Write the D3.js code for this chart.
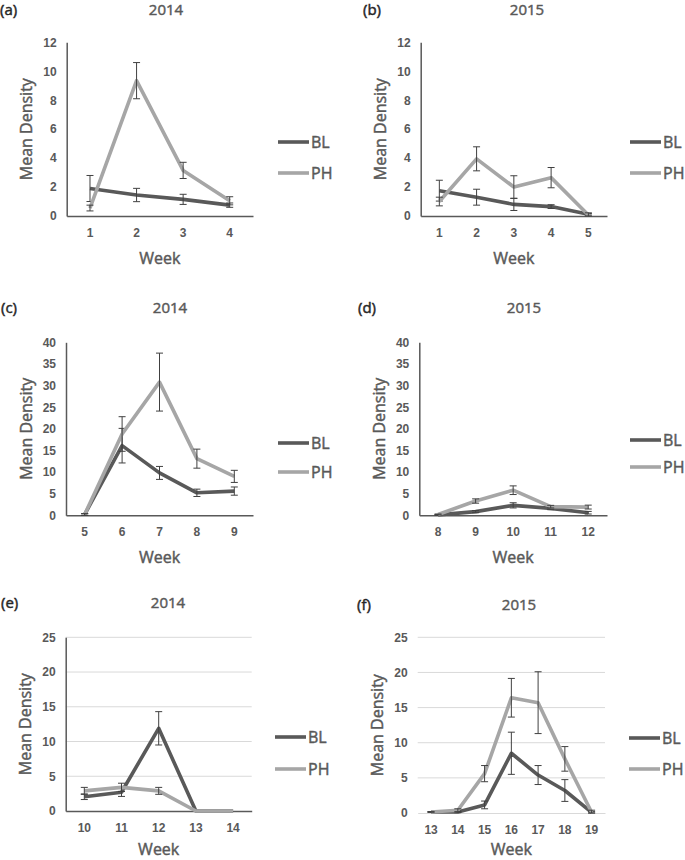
<!DOCTYPE html>
<html>
<head>
<meta charset="utf-8">
<script src="https://cdn.jsdelivr.net/npm/d3@7"></script>
<style>
  body { margin: 0; background: #fff; }
  svg { display: block; font-family: 'Open Sans', 'Liberation Sans', sans-serif; }
  .tick text { fill: #595959; font-size: 12px; font-weight: bold; }
  .heavy { stroke-width: 0.45px; paint-order: stroke; }
</style>
</head>
<body>
<div id="chart"></div>
<script>
// panel (a) 2014
const weeksA = [1, 2, 3, 4];
const blA = [1.9, 1.45, 1.15, 0.75];
const blErrA = [0.9, 0.46, 0.35, 0.15];
const phA = [0.55, 9.35, 3.15, 1.05];
const phErrA = [0.2, 1.25, 0.56, 0.28];

// panel (b) 2015
const weeksB = [1, 2, 3, 4, 5];
const blB = [1.75, 1.3, 0.8, 0.65, 0.12];
const blErrB = [0.72, 0.55, 0.42, 0.13, 0.05];
const phB = [1.0, 3.95, 2.0, 2.65, 0.07];
const phErrB = [0.3, 0.83, 0.78, 0.7, 0.15];

// panel (c) 2014
const weeksC = [5, 6, 7, 8, 9];
const blC = [0.2, 16.1, 9.8, 5.2, 5.6];
const blErrC = [0.2, 4.0, 1.5, 0.85, 0.95];
const phC = [0.2, 18.8, 30.8, 13.1, 9.0];
const phErrC = [0.2, 4.0, 6.7, 2.2, 1.4];

// panel (d) 2015
const weeksD = [8, 9, 10, 11, 12];
const blD = [0.1, 0.85, 2.3, 1.6, 0.6];
const blErrD = [0.1, 0.25, 0.6, 0.3, 0.3];
const phD = [0.2, 3.3, 5.8, 2.0, 1.9];
const phErrD = [0.1, 0.5, 1.0, 0.3, 0.45];

// panel (e) 2014
const weeksE = [10, 11, 12, 13, 14];
const blE = [2.05, 2.7, 11.9, 0, 0];
const blErrE = [0.4, 0.6, 2.4, 0, 0];
const phE = [2.9, 3.4, 2.9, 0, 0];
const phErrE = [0.5, 0.6, 0.5, 0, 0];

// panel (f) 2015
const weeksF = [13, 14, 15, 16, 17, 18, 19];
const blF = [0.15, 0.15, 1.15, 8.5, 5.4, 3.2, 0.1];
const blErrF = [0.05, 0.1, 0.55, 3.0, 1.35, 1.55, 0.1];
const phF = [0.15, 0.4, 5.6, 16.4, 15.7, 7.7, 0.1];
const phErrF = [0.05, 0.2, 1.15, 2.75, 4.4, 1.75, 0.3];

const ticks12 = [0, 2, 4, 6, 8, 10, 12];
const ticks40 = [0, 5, 10, 15, 20, 25, 30, 35, 40];
const ticks25 = [0, 5, 10, 15, 20, 25];

const seriesNames = ['BL', 'PH'];
const seriesColor = { BL: '#595959', PH: '#a6a6a6' };
const textColor = '#595959';

const svg = d3.select('#chart').append('svg').attr('width', 685).attr('height', 860);

const panels = [
  { tag: '(a)', title: '2014', weeks: weeksA, bl: blA, blErr: blErrA, ph: phA, phErr: phErrA, ticks: ticks12,
    left: 66.7, right: 253, top: 42.3, bottom: 216, tagX: 0, tagY: 10, titleX: 166, titleY: 10, weekY: 258,
    legX: 278, legY: [142, 173], grid: false, yLine: true },
  { tag: '(b)', title: '2015', weeks: weeksB, bl: blB, blErr: blErrB, ph: phB, phErr: phErrB, ticks: ticks12,
    left: 420.7, right: 607, top: 42.3, bottom: 216, tagX: 363, tagY: 10, titleX: 527, titleY: 10, weekY: 258,
    legX: 630, legY: [142, 173], grid: false, yLine: true },
  { tag: '(c)', title: '2014', weeks: weeksC, bl: blC, blErr: blErrC, ph: phC, phErr: phErrC, ticks: ticks40,
    left: 66, right: 253, top: 342.3, bottom: 515.3, tagX: 1, tagY: 308, titleX: 170, titleY: 308, weekY: 557,
    legX: 278, legY: [443, 472], grid: false, yLine: true },
  { tag: '(d)', title: '2015', weeks: weeksD, bl: blD, blErr: blErrD, ph: phD, phErr: phErrD, ticks: ticks40,
    left: 419.3, right: 607, top: 342.3, bottom: 515.3, tagX: 358, tagY: 308, titleX: 524, titleY: 308, weekY: 557,
    legX: 630, legY: [440, 467], grid: false, yLine: true },
  { tag: '(e)', title: '2014', weeks: weeksE, bl: blE, blErr: blErrE, ph: phE, phErr: phErrE, ticks: ticks25,
    left: 65.7, right: 251.7, top: 637.3, bottom: 811, tagX: 1, tagY: 603, titleX: 168, titleY: 603, weekY: 849,
    legX: 275, legY: [737, 769], grid: true, yLine: true },
  { tag: '(f)', title: '2015', weeks: weeksF, bl: blF, blErr: blErrF, ph: phF, phErr: phErrF, ticks: ticks25,
    left: 417.7, right: 605, top: 637.3, bottom: 813, tagX: 357, tagY: 605, titleX: 519, titleY: 605, weekY: 849,
    legX: 629, legY: [738, 769], grid: true, yLine: false }
];

panels.forEach(drawPanel);

function drawPanel(p) {
  const x = d3.scaleBand().domain(p.weeks).range([p.left, p.right]);
  const y = d3.scaleLinear().domain([0, d3.max(p.ticks)]).range([p.bottom, p.top]);
  const g = svg.append('g');

  // panel tag and title
  g.append('text').attr('class', 'heavy').attr('x', p.tagX).attr('y', p.tagY).attr('dy', '0.35em')
    .style('font-size', '15px').style('fill', '#262626').style('stroke', '#262626').text(p.tag);
  g.append('text').attr('class', 'heavy').attr('x', p.titleX).attr('y', p.titleY).attr('dy', '0.35em')
    .attr('text-anchor', 'middle').style('font-size', '15px')
    .style('fill', textColor).style('stroke', textColor).text(p.title);

  if (p.grid) {
    g.append('g').selectAll('line').data(p.ticks.filter(t => t > 0)).join('line')
      .attr('x1', p.left).attr('x2', p.right)
      .attr('y1', d => y(d)).attr('y2', d => y(d))
      .attr('stroke', '#d9d9d9').attr('stroke-width', 1);
  }

  // y axis
  const yAxis = g.append('g').attr('transform', `translate(${p.left},0)`)
    .call(d3.axisLeft(y).tickValues(p.ticks).tickSize(0).tickPadding(10));
  yAxis.select('.domain').attr('stroke', p.yLine ? '#595959' : 'none').attr('stroke-width', 1.5);

  // x axis
  const xAxis = g.append('g').attr('transform', `translate(0,${p.bottom})`)
    .call(d3.axisBottom(x).tickSize(0).tickPadding(12));
  xAxis.select('.domain').attr('stroke', p.yLine ? '#595959' : '#d9d9d9').attr('stroke-width', p.yLine ? 1.5 : 1);

  // axis titles
  g.append('text').attr('class', 'heavy').attr('x', (p.left + p.right) / 2).attr('y', p.weekY).attr('dy', '0.35em')
    .attr('text-anchor', 'middle').style('font-size', '16px')
    .style('fill', textColor).style('stroke', textColor).text('Week');
  g.append('text').attr('class', 'heavy')
    .attr('transform', `translate(${p.left - 40},${(p.top + p.bottom) / 2}) rotate(-90)`)
    .attr('dy', '0.35em').attr('text-anchor', 'middle')
    .style('font-size', '16px').style('fill', textColor).style('stroke', textColor).text('Mean Density');

  const line = d3.line().x(d => x(d.week) + x.bandwidth() / 2).y(d => y(d.value));

  const series = [
    { name: 'BL', values: p.weeks.map((w, i) => ({ week: w, value: p.bl[i], err: p.blErr[i] })) },
    { name: 'PH', values: p.weeks.map((w, i) => ({ week: w, value: p.ph[i], err: p.phErr[i] })) }
  ];

  series.forEach(s => {
    g.append('path').datum(s.values).attr('d', line)
      .attr('fill', 'none').attr('stroke', seriesColor[s.name])
      .attr('stroke-width', 3.6).attr('stroke-linejoin', 'round');

    const bars = g.append('g').selectAll('g').data(s.values.filter(d => d.err > 0)).join('g')
      .attr('stroke', '#404040').attr('stroke-width', 1);
    const cx = d => x(d.week) + x.bandwidth() / 2;
    bars.append('line').attr('x1', cx).attr('x2', cx)
      .attr('y1', d => y(d.value + d.err)).attr('y2', d => y(Math.max(0, d.value - d.err)));
    bars.append('line').attr('x1', d => cx(d) - 3.5).attr('x2', d => cx(d) + 3.5)
      .attr('y1', d => y(d.value + d.err)).attr('y2', d => y(d.value + d.err));
    bars.append('line').attr('x1', d => cx(d) - 3.5).attr('x2', d => cx(d) + 3.5)
      .attr('y1', d => y(Math.max(0, d.value - d.err))).attr('y2', d => y(Math.max(0, d.value - d.err)));
  });

  // legend
  seriesNames.forEach((name, i) => {
    const ly = p.legY[i];
    g.append('line').attr('x1', p.legX).attr('x2', p.legX + 31).attr('y1', ly).attr('y2', ly)
      .attr('stroke', seriesColor[name]).attr('stroke-width', 3.6);
    g.append('text').attr('class', 'heavy').attr('x', p.legX + 33).attr('y', ly).attr('dy', '0.36em')
      .style('font-size', '16px').style('fill', textColor).style('stroke', textColor).text(name);
  });
}
</script>
</body>
</html>
